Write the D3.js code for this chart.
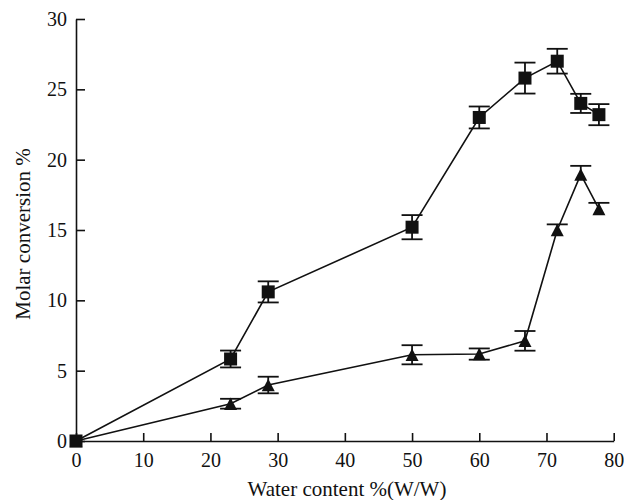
<!DOCTYPE html>
<html>
<head>
<meta charset="utf-8">
<script src="https://cdn.jsdelivr.net/npm/d3@7/dist/d3.min.js"></script>
<style>
  html, body { margin: 0; padding: 0; background: #fff; }
  svg { display: block; }
  svg text { font-family: 'Liberation Serif', 'Times New Roman', 'DejaVu Serif', serif !important; fill: #111; }
</style>
</head>
<body>
<svg id="chart" width="624" height="500"></svg>
<script>
// Water content (% w/w) for each sample
const waterContent = [0, 23, 28.6, 50, 60, 66.8, 71.6, 75.1, 77.8];

// Square series: molar conversion (%) and symmetric error
const squareValues = [0, 5.83, 10.6, 15.2, 23.0, 25.8, 27.0, 24.0, 23.2];
const squareErr    = [0, 0.6, 0.75, 0.86, 0.78, 1.1, 0.88, 0.68, 0.75];

// Triangle series: molar conversion (%), upper and lower error
const triangleValues  = [0, 2.65, 3.98, 6.13, 6.18, 7.12, 15.0, 18.95, 16.5];
const triangleErrUp   = [0, 0.35, 0.59, 0.68, 0.4, 0.7, 0.4, 0.61, 0.43];
const triangleErrDown = [0, 0.35, 0.59, 0.68, 0.4, 0.7, 0, 0, 0];

const xTicks = [0, 10, 20, 30, 40, 50, 60, 70, 80];
const yTicks = [0, 5, 10, 15, 20, 25, 30];

const serif = "'Liberation Serif', 'Times New Roman', 'DejaVu Serif', serif";
const svg = d3.select("#chart");
const ink = "#111";

const x = d3.scaleLinear().domain([0, 80]).range([76, 613.7]);
const y = d3.scaleLinear().domain([0, 30]).range([441, 19]);

// Axes with inward ticks
const xAxis = d3.axisBottom(x).tickValues(xTicks).tickSize(-8).tickSizeOuter(0).tickPadding(12);
const yAxis = d3.axisLeft(y).tickValues(yTicks).tickSize(-9).tickSizeOuter(0).tickPadding(9);

const gx = svg.append("g").attr("transform", `translate(0,${y(0)})`).call(xAxis);
const gy = svg.append("g").attr("transform", `translate(${x(0)},0)`).call(yAxis);

[gx, gy].forEach(g => {
  g.attr("font-family", null).attr("font-size", null);
  g.select(".domain").attr("stroke", ink).attr("stroke-width", 1.6);
  g.selectAll(".tick line").attr("stroke", ink).attr("stroke-width", 1.6);
  g.selectAll(".tick text")
    .style("font-family", serif)
    .style("font-size", "20px")
    .attr("fill", ink);
});

// Axis titles
svg.append("text")
  .attr("x", 347).attr("y", 496)
  .attr("text-anchor", "middle")
  .style("font-family", serif)
  .style("font-size", "21px")
  .text("Water content %(W/W)");

svg.append("text")
  .attr("transform", "translate(30,234) rotate(-90)")
  .attr("text-anchor", "middle")
  .style("font-family", serif)
  .style("font-size", "21px")
  .text("Molar conversion %");

const line = d3.line().x(d => x(d.x)).y(d => y(d.v));

function series(values, up, down) {
  return waterContent.map((wc, i) => ({ x: wc, v: values[i], up: up[i], down: down[i] }));
}

const squares = series(squareValues, squareErr, squareErr);
const triangles = series(triangleValues, triangleErrUp, triangleErrDown);

function drawErrors(data) {
  const g = svg.append("g").attr("stroke", ink).attr("stroke-width", 1.8);
  const capHalf = 10.5;
  data.forEach(d => {
    if (d.up === 0 && d.down === 0) return;
    const cx = x(d.x);
    g.append("line").attr("x1", cx).attr("x2", cx)
      .attr("y1", y(d.v + d.up)).attr("y2", y(d.v - d.down));
    if (d.up > 0) {
      g.append("line").attr("x1", cx - capHalf).attr("x2", cx + capHalf)
        .attr("y1", y(d.v + d.up)).attr("y2", y(d.v + d.up));
    }
    if (d.down > 0) {
      g.append("line").attr("x1", cx - capHalf).attr("x2", cx + capHalf)
        .attr("y1", y(d.v - d.down)).attr("y2", y(d.v - d.down));
    }
  });
}

function drawLine(data) {
  svg.append("path").datum(data)
    .attr("d", line)
    .attr("fill", "none")
    .attr("stroke", ink)
    .attr("stroke-width", 1.6);
}

// Triangle series
drawErrors(triangles);
drawLine(triangles);
const tw = 13, th = 12.5;
svg.append("g").selectAll("path").data(triangles).join("path")
  .attr("transform", d => `translate(${x(d.x)},${y(d.v)})`)
  .attr("d", `M0,${-th / 2}L${tw / 2},${th / 2}L${-tw / 2},${th / 2}Z`)
  .attr("fill", ink);

// Square series
drawErrors(squares);
drawLine(squares);
const sq = 13;
svg.append("g").selectAll("rect").data(squares).join("rect")
  .attr("x", d => x(d.x) - sq / 2)
  .attr("y", d => y(d.v) - sq / 2)
  .attr("width", sq).attr("height", sq)
  .attr("fill", ink);
</script>
</body>
</html>
